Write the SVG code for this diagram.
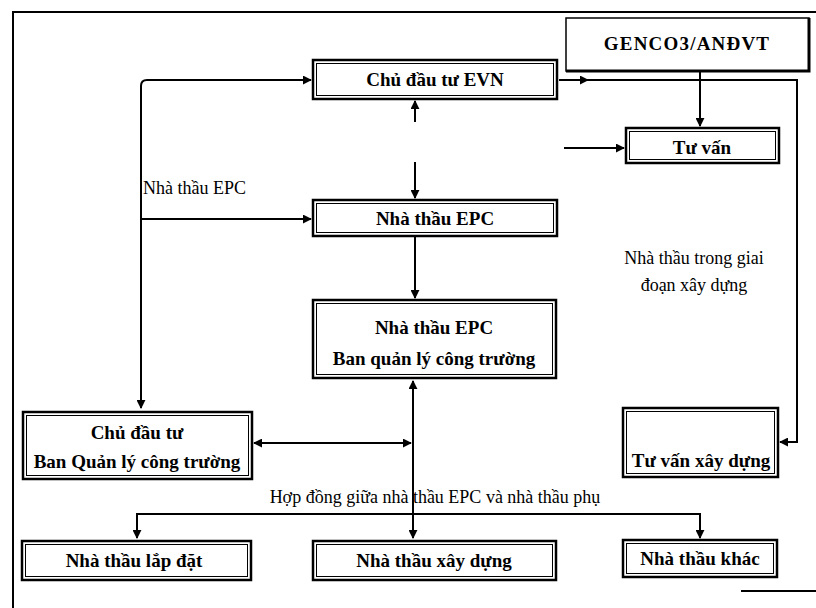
<svg xmlns="http://www.w3.org/2000/svg" width="816" height="608" viewBox="0 0 816 608">
<defs>
<marker id="ah" viewBox="0 0 10 10" refX="9" refY="5" markerWidth="9" markerHeight="9" markerUnits="userSpaceOnUse" orient="auto-start-reverse">
<path d="M0,0 L10,5 L0,10 Z" fill="#000"/>
</marker>
</defs>
<style>
.bg{fill:#fff}
.frame{fill:none;stroke:#000;stroke-width:2}
.box{fill:#fff;stroke:#000;stroke-width:2.5}
.inner{fill:none;stroke:#000;stroke-width:1}
.ln{fill:none;stroke:#000;stroke-width:2}
.bt{font-family:"Liberation Serif","DejaVu Serif",serif;font-weight:bold;font-size:19px;text-anchor:middle;fill:#000}
.rt{font-family:"Liberation Serif","DejaVu Serif",serif;font-size:18px;fill:#000}
</style>
<rect class="bg" x="0" y="0" width="816" height="608"/>
<g id="frame">
<path class="frame" d="M13,608 V12 H816"/>
<path class="frame" d="M741,591 H816"/>
</g>
<g id="connectors">
<path class="ln" d="M141,408 V86 Q141,80 147,80 H311" marker-start="url(#ah)" marker-end="url(#ah)"/>
<path class="ln" d="M141,219 H311" marker-end="url(#ah)"/>
<path class="ln" d="M415,122 V101" marker-end="url(#ah)"/>
<path class="ln" d="M415,162 V198" marker-end="url(#ah)"/>
<path class="ln" d="M415,236 V298" marker-end="url(#ah)"/>
<path class="ln" d="M413,538 V381" marker-start="url(#ah)" marker-end="url(#ah)"/>
<path class="ln" d="M411,443 H254" marker-start="url(#ah)" marker-end="url(#ah)"/>
<path class="ln" d="M137,538 V514 H700 V538" marker-start="url(#ah)" marker-end="url(#ah)"/>
<path class="ln" d="M559,80 H588" marker-end="url(#ah)"/>
<path class="ln" d="M586,80 H797 V442 H780" marker-end="url(#ah)"/>
<path class="ln" d="M700,72 V126" marker-end="url(#ah)"/>
<path class="ln" d="M564,148 H624" marker-end="url(#ah)"/>
</g>
<g id="genco">
<rect x="566" y="18" width="243" height="53" fill="#fff" stroke="#000" stroke-width="1.5"/>
<path d="M809,18 V71 H566" fill="none" stroke="#000" stroke-width="3"/>
<text class="bt" x="687" y="50" letter-spacing="1.2">GENCO3/ANĐVT</text>
</g>
<g id="evn">
<rect class="box" x="313" y="60" width="244" height="39"/>
<rect class="inner" x="316.5" y="63.5" width="237" height="32"/>
<text class="bt" x="435" y="86">Chủ đầu tư EVN</text>
</g>
<g id="tuvan">
<rect class="box" x="626" y="128" width="153" height="35"/>
<rect class="inner" x="629.5" y="131.5" width="146" height="28"/>
<text class="bt" x="702" y="154">Tư vấn</text>
</g>
<g id="epc">
<rect class="box" x="313" y="200" width="244" height="36"/>
<rect class="inner" x="316.5" y="203.5" width="237" height="29"/>
<text class="bt" x="435" y="225">Nhà thầu EPC</text>
</g>
<g id="epc-bql">
<rect class="box" x="313" y="300" width="243" height="78"/>
<rect class="inner" x="316.5" y="303.5" width="236" height="71"/>
<text class="bt" x="434" y="334">Nhà thầu EPC</text>
<text class="bt" x="434" y="365">Ban quản lý công trường</text>
</g>
<g id="cdt-bql">
<rect class="box" x="23" y="412" width="229" height="67"/>
<rect class="inner" x="26.5" y="415.5" width="222" height="60"/>
<text class="bt" x="137" y="439">Chủ đầu tư</text>
<text class="bt" x="137" y="468">Ban Quản lý công trường</text>
</g>
<g id="tuvan-xd">
<rect class="box" x="623" y="408" width="155" height="69"/>
<rect class="inner" x="626.5" y="411.5" width="148" height="62"/>
<text class="bt" x="701" y="467">Tư vấn xây dựng</text>
</g>
<g id="lapdat">
<rect class="box" x="22" y="541" width="229" height="39"/>
<rect class="inner" x="25.5" y="544.5" width="222" height="32"/>
<text class="bt" x="134" y="567">Nhà thầu lắp đặt</text>
</g>
<g id="xaydung">
<rect class="box" x="313" y="541" width="243" height="39"/>
<rect class="inner" x="316.5" y="544.5" width="236" height="32"/>
<text class="bt" x="434" y="567">Nhà thầu xây dựng</text>
</g>
<g id="khac">
<rect class="box" x="623" y="540" width="154" height="37"/>
<rect class="inner" x="626.5" y="543.5" width="147" height="30"/>
<text class="bt" x="700" y="565">Nhà thầu khác</text>
</g>
<g id="labels">
<text class="rt" x="143" y="194">Nhà thầu EPC</text>
<text class="rt" x="694" y="264" text-anchor="middle" font-size="19">Nhà thầu trong giai</text>
<text class="rt" x="694" y="291" text-anchor="middle" font-size="19">đoạn xây dựng</text>
<text class="rt" x="435" y="503" text-anchor="middle">Hợp đồng giữa nhà thầu EPC và nhà thầu phụ</text>
</g>
</svg>
